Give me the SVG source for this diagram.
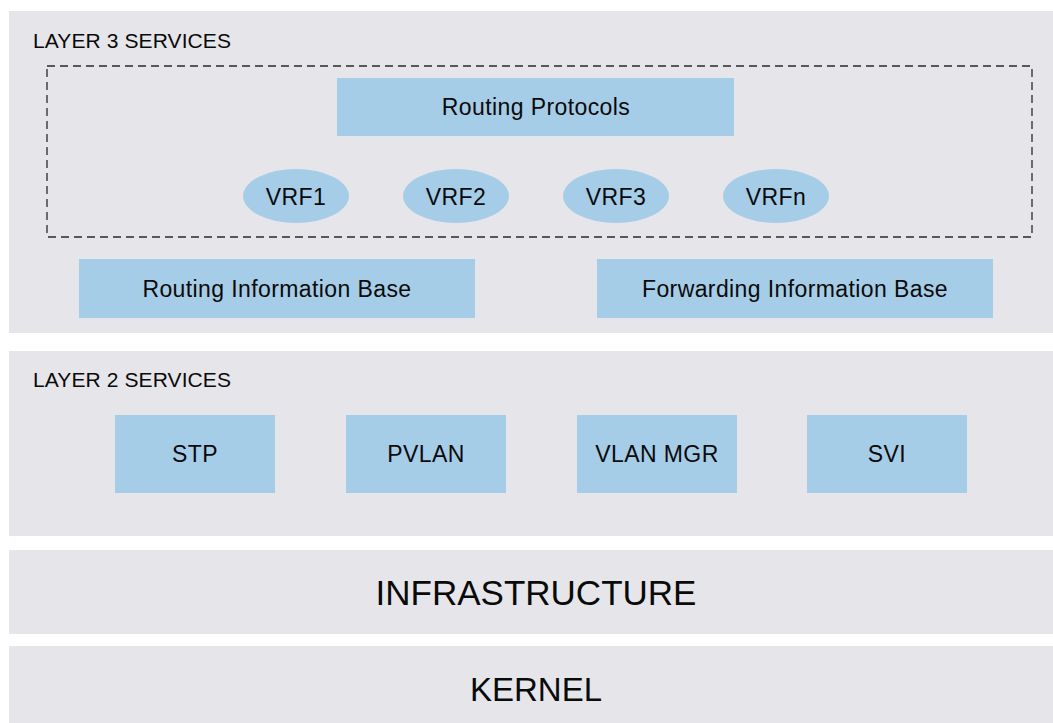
<svg xmlns="http://www.w3.org/2000/svg" width="1053" height="723" viewBox="0 0 1053 723">
<style>
.panel{fill:#e6e6ea}
.box{fill:#a6cde8}
.t{font-family:"Liberation Sans",Arial,sans-serif;fill:#0a0a0a;text-anchor:middle}
.n{font-size:23px;letter-spacing:0.4px}
.hdr{font-family:"Liberation Sans",Arial,sans-serif;fill:#0a0a0a;font-size:21px;letter-spacing:0.1px}
.dash{fill:none;stroke:#2a2a2a;stroke-width:1.3;stroke-dasharray:8 5}
</style>
<rect width="1053" height="723" fill="#ffffff"/>
<g id="layer3">
<rect class="panel" x="9" y="11" width="1044" height="322"/>
<text class="hdr" x="33" y="48">LAYER 3 SERVICES</text>
<rect class="dash" x="47" y="66" width="985" height="171"/>
</g>
<g id="routing-protocols">
<rect class="box" x="337" y="78" width="397" height="58"/>
<text class="t n" x="536" y="115">Routing Protocols</text>
</g>
<g id="vrf1">
<ellipse class="box" cx="296" cy="196" rx="53" ry="27"/>
<text class="t n" x="296" y="205">VRF1</text>
</g>
<g id="vrf2">
<ellipse class="box" cx="456" cy="196" rx="53" ry="27"/>
<text class="t n" x="456" y="205">VRF2</text>
</g>
<g id="vrf3">
<ellipse class="box" cx="616" cy="196" rx="53" ry="27"/>
<text class="t n" x="616" y="205">VRF3</text>
</g>
<g id="vrfn">
<ellipse class="box" cx="776" cy="196" rx="53" ry="27"/>
<text class="t n" x="776" y="205">VRFn</text>
</g>
<g id="rib">
<rect class="box" x="79" y="259" width="396" height="59"/>
<text class="t n" x="277" y="297">Routing Information Base</text>
</g>
<g id="fib">
<rect class="box" x="597" y="259" width="396" height="59"/>
<text class="t n" x="795" y="297">Forwarding Information Base</text>
</g>
<g id="layer2">
<rect class="panel" x="9" y="351" width="1044" height="185"/>
<text class="hdr" x="33" y="387">LAYER 2 SERVICES</text>
</g>
<g id="stp">
<rect class="box" x="115" y="415" width="160" height="78"/>
<text class="t n" x="195" y="462">STP</text>
</g>
<g id="pvlan">
<rect class="box" x="346" y="415" width="160" height="78"/>
<text class="t n" x="426" y="462">PVLAN</text>
</g>
<g id="vlanmgr">
<rect class="box" x="577" y="415" width="160" height="78"/>
<text class="t n" x="657" y="462">VLAN MGR</text>
</g>
<g id="svi">
<rect class="box" x="807" y="415" width="160" height="78"/>
<text class="t n" x="887" y="462">SVI</text>
</g>
<g id="infrastructure">
<rect class="panel" x="9" y="550" width="1044" height="84"/>
<text class="t" x="536" y="605" font-size="35">INFRASTRUCTURE</text>
</g>
<g id="kernel">
<rect class="panel" x="9" y="646" width="1044" height="77"/>
<text class="t" x="536" y="701" font-size="33">KERNEL</text>
</g>
<g id="connectors"></g>
</svg>
